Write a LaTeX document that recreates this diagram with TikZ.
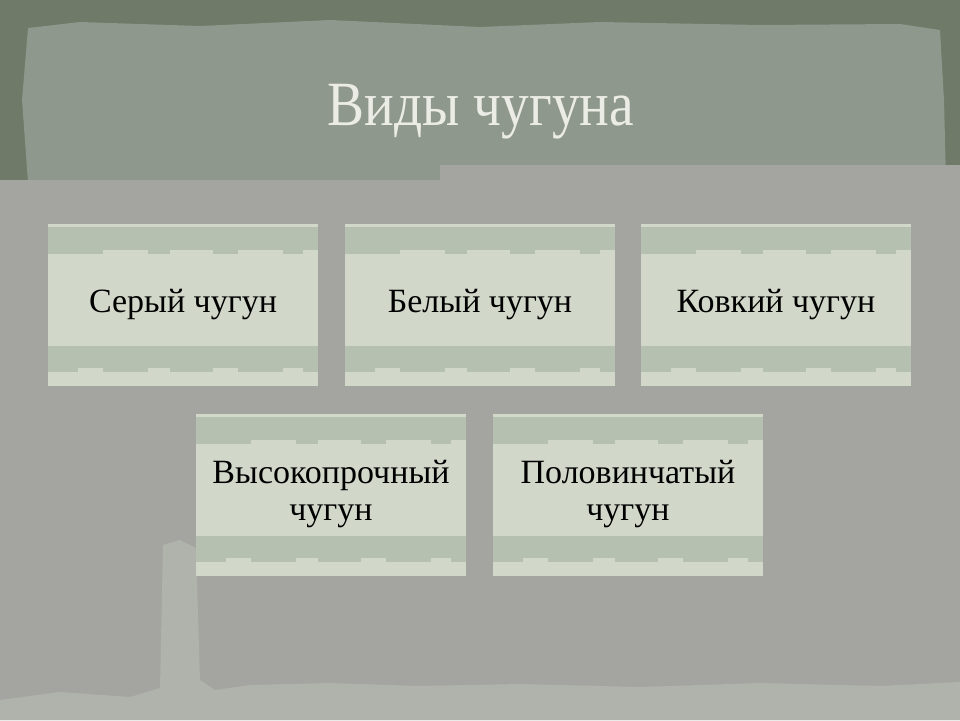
\documentclass[tikz,border=0pt]{standalone}
\usepackage{fontspec}
\setmainfont{Liberation Serif}
\newfontfamily\titlefont[FakeStretch=0.88]{Liberation Serif}
\definecolor{outerdark}{HTML}{6F7A68}
\definecolor{paper}{HTML}{8F988C}
\definecolor{content}{HTML}{A4A5A0}
\definecolor{boxlight}{HTML}{D1D8CA}
\definecolor{band}{HTML}{B6C0B0}
\definecolor{torn}{HTML}{B0B3AB}
\definecolor{titlecol}{HTML}{ECECE6}
\tikzset{
  x=1pt, y=-1pt,
  itembox/.style={minimum width=270pt, minimum height=162pt, fill=boxlight,
    inner sep=0pt, align=center, font=\fontsize{34}{37}\selectfont,
    path picture={
      \coordinate (nw) at (path picture bounding box.north west);
      \fill[band] ([yshift=-3pt]nw) rectangle ++(270,23);
      \foreach \a/\b in {0/55,100/122,165/190,235/255}{
        \fill[band] ([xshift=\a pt, yshift=-26pt]nw) rectangle ++(\b-\a,4);
      }
      \fill[band] ([yshift=-122pt]nw) rectangle ++(270,22);
      \foreach \a/\b in {0/30,55/100,122/165,190/235,255/270}{
        \fill[band] ([xshift=\a pt, yshift=-144pt]nw) rectangle ++(\b-\a,4);
      }
    }},
}
\begin{document}
\begin{tikzpicture}
\useasboundingbox (0,0) rectangle (960,720);
\fill[outerdark] (0,0) rectangle (960,720);
% torn paper
\fill[paper] (28,28) -- (80,22) -- (200,26) -- (330,20) -- (480,27) -- (600,22) -- (760,25) -- (900,24) -- (940,30) -- (944,100) -- (946,180) -- (28,182) -- (22,100) -- cycle;
% content area
\fill[content] (0,180) -- (440,180) -- (440,165) -- (960,165) -- (960,720) -- (0,720) -- cycle;
% lighter torn strips
\fill[torn] (0,700) -- (60,692) -- (130,697) -- (160,688) -- (163,545) -- (180,540) -- (196,548) -- (200,680) -- (215,690) -- (250,685) -- (330,683) -- (420,686) -- (520,684) -- (640,687) -- (760,683) -- (880,686) -- (960,682) -- (960,720) -- (0,720) -- cycle;
\node[font=\titlefont\fontsize{63}{68}\selectfont, text=titlecol] (title) at (481,112) {Виды чугуна};
\node[itembox] (b1) at (183,305) {Серый чугун};
\node[itembox] (b2) at (480,305) {Белый чугун};
\node[itembox] (b3) at (776,305) {Ковкий чугун};
\node[itembox] (b4) at (331,494.5) {Высокопрочный\\чугун};
\node[itembox] (b5) at (628,494.5) {Половинчатый\\чугун};
\end{tikzpicture}
\end{document}
